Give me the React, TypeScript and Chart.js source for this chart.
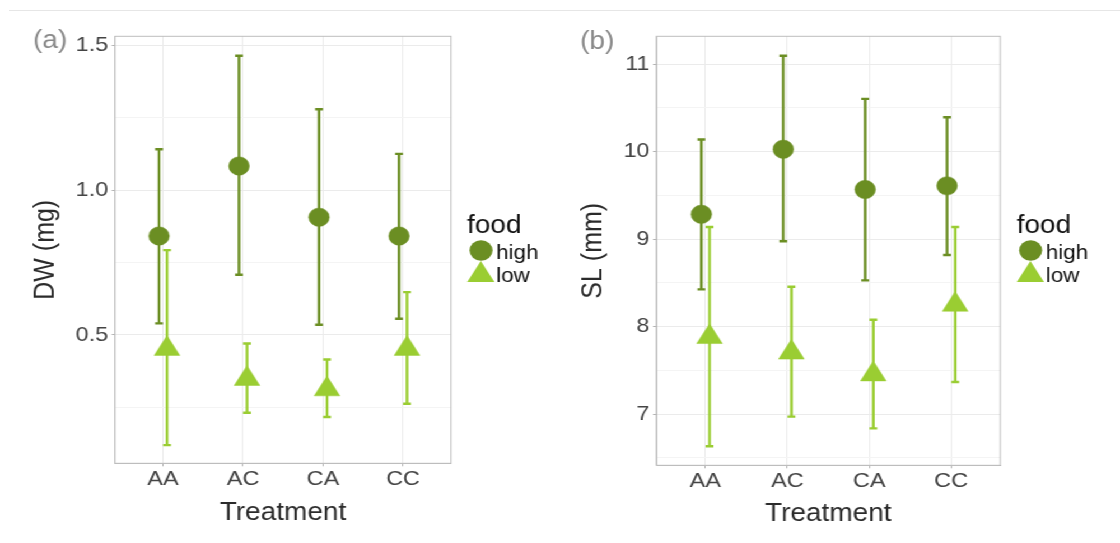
import React, { useEffect, useRef } from 'react';
import { Chart, registerables } from 'chart.js';

Chart.register(...registerables);

// ---------------- data ----------------
const CATEGORIES = ['AA', 'AC', 'CA', 'CC'];
const SERIES_NAMES = ['high', 'low'];

const DW_HIGH_MEAN = [0.842, 1.084, 0.907, 0.842];
const DW_HIGH_UPPER = [1.142, 1.465, 1.28, 1.126];
const DW_HIGH_LOWER = [0.54, 0.708, 0.535, 0.556];
const DW_LOW_MEAN = [0.452, 0.348, 0.312, 0.452];
const DW_LOW_UPPER = [0.793, 0.47, 0.415, 0.648];
const DW_LOW_LOWER = [0.119, 0.231, 0.216, 0.262];

const SL_HIGH_MEAN = [9.283, 10.026, 9.566, 9.608];
const SL_HIGH_UPPER = [10.137, 11.095, 10.602, 10.392];
const SL_HIGH_LOWER = [8.425, 8.974, 8.528, 8.817];
const SL_LOW_MEAN = [7.881, 7.703, 7.454, 8.25];
const SL_LOW_UPPER = [9.137, 8.454, 8.077, 9.137];
const SL_LOW_LOWER = [6.631, 6.97, 6.836, 7.366];

const DW_MAJOR_TICKS = [0.5, 1.0, 1.5];
const DW_TICK_LABELS = ['0.5', '1.0', '1.5'];
const DW_MINOR_TICKS = [0.25, 0.75, 1.25];
const SL_MAJOR_TICKS = [7, 8, 9, 10, 11];
const SL_TICK_LABELS = ['7', '8', '9', '10', '11'];
const SL_MINOR_TICKS = [6.5, 7.5, 8.5, 9.5, 10.5];

// ---------------- styles ----------------
const SX = 1.12; // horizontal stretch of the whole figure
const FONT = "'Liberation Sans', Arial, Helvetica, sans-serif";
const HIGH_COLOR = '#6b8e23';
const LOW_COLOR = '#9acd32';
const DODGE = 0.05;
const CAP = 3.5;

const PANELS = [
  {
    left: 0,
    tag: '(a)', tagX: 29.5, tagY: 48,
    yTitle: 'DW (mg)',
    yMin: 0.056, yMax: 1.5325,
    major: DW_MAJOR_TICKS, labels: DW_TICK_LABELS, minor: DW_MINOR_TICKS,
    high: { mean: DW_HIGH_MEAN, up: DW_HIGH_UPPER, lo: DW_HIGH_LOWER },
    low: { mean: DW_LOW_MEAN, up: DW_LOW_UPPER, lo: DW_LOW_LOWER },
    padLeft: 26, yWidth: 76.7, padRight: 97.3, padTop: 36.3, padBottom: 15, xHeight: 64.7,
    legendX: 417,
  },
  {
    left: 500,
    tag: '(b)', tagX: 17.9, tagY: 49,
    yTitle: 'SL (mm)',
    yMin: 6.414, yMax: 11.317,
    major: SL_MAJOR_TICKS, labels: SL_TICK_LABELS, minor: SL_MINOR_TICKS,
    high: { mean: SL_HIGH_MEAN, up: SL_HIGH_UPPER, lo: SL_HIGH_LOWER },
    low: { mean: SL_LOW_MEAN, up: SL_LOW_UPPER, lo: SL_LOW_LOWER },
    padLeft: 14.8, yWidth: 71.2, padRight: 106.9, padTop: 36.3, padBottom: 14, xHeight: 63.7,
    legendX: 407.7,
  },
];

const errorBarPlugin = {
  id: 'errorBarsAndFrame',
  beforeDatasetsDraw(chart: any) {
    const { ctx, chartArea, scales } = chart;
    const x = scales.x;
    const y = scales.y;
    ctx.save();
    ctx.strokeStyle = '#bdbdbd';
    ctx.lineWidth = 1;
    ctx.strokeRect(chartArea.left, chartArea.top, chartArea.right - chartArea.left, chartArea.bottom - chartArea.top);
    chart.data.datasets.forEach((ds: any) => {
      ctx.strokeStyle = ds.errColor;
      ctx.lineWidth = 2.4;
      ctx.lineCap = 'butt';
      ds.data.forEach((p: any, i: number) => {
        const px = x.getPixelForValue(p.x);
        const yU = y.getPixelForValue(ds.errUpper[i]);
        const yL = y.getPixelForValue(ds.errLower[i]);
        ctx.beginPath();
        ctx.moveTo(px, yU);
        ctx.lineTo(px, yL);
        ctx.moveTo(px - CAP, yU);
        ctx.lineTo(px + CAP, yU);
        ctx.moveTo(px - CAP, yL);
        ctx.lineTo(px + CAP, yL);
        ctx.stroke();
      });
    });
    ctx.restore();
  },
  afterDraw(chart: any) {
    const { ctx } = chart;
    const cfg = chart.options.plugins.errorBarsAndFrame;
    ctx.save();
    // panel tag
    ctx.fillStyle = '#8a8a8a';
    ctx.font = `25px ${FONT}`;
    ctx.textAlign = 'left';
    ctx.textBaseline = 'alphabetic';
    ctx.fillText(cfg.tag, cfg.tagX, cfg.tagY);
    // legend
    const lx = cfg.legendX;
    ctx.fillStyle = '#111';
    ctx.font = `25px ${FONT}`;
    ctx.fillText('food', lx, 233);
    ctx.fillStyle = HIGH_COLOR;
    ctx.beginPath();
    ctx.arc(lx + 12.5, 250.5, 10.3, 0, Math.PI * 2);
    ctx.fill();
    const tx = lx + 12.3;
    const ty = 275;
    const r = 14;
    ctx.fillStyle = LOW_COLOR;
    ctx.beginPath();
    for (let k = 0; k < 3; k++) {
      const a = (k * 2 * Math.PI) / 3;
      const vx = tx + Math.sin(a) * r;
      const vy = ty - Math.cos(a) * r;
      if (k === 0) ctx.moveTo(vx, vy);
      else ctx.lineTo(vx, vy);
    }
    ctx.closePath();
    ctx.fill();
    ctx.fillStyle = '#111';
    ctx.font = `20px ${FONT}`;
    ctx.fillText(SERIES_NAMES[0], lx + 26, 258.5);
    ctx.fillText(SERIES_NAMES[1], lx + 26, 281.5);
    ctx.restore();
  },
};

function buildConfig(p: any) {
  const allY = [...p.minor, ...p.major].sort((a: number, b: number) => a - b);
  const isMajor = (v: number) => p.major.some((m: number) => Math.abs(m - v) < 1e-9);
  return {
    type: 'scatter',
    data: {
      datasets: [
        {
          label: SERIES_NAMES[0],
          data: p.high.mean.map((v: number, i: number) => ({ x: i - DODGE, y: v })),
          errUpper: p.high.up,
          errLower: p.high.lo,
          errColor: HIGH_COLOR,
          pointStyle: 'circle',
          pointRadius: 9.2,
          pointBackgroundColor: HIGH_COLOR,
          pointBorderColor: HIGH_COLOR,
          pointBorderWidth: 0.5,
          showLine: false,
        },
        {
          label: SERIES_NAMES[1],
          data: p.low.mean.map((v: number, i: number) => ({ x: i + DODGE, y: v })),
          errUpper: p.low.up,
          errLower: p.low.lo,
          errColor: LOW_COLOR,
          pointStyle: 'triangle',
          pointRadius: 13.2,
          pointBackgroundColor: LOW_COLOR,
          pointBorderColor: LOW_COLOR,
          pointBorderWidth: 0.5,
          showLine: false,
        },
      ],
    },
    options: {
      responsive: false,
      maintainAspectRatio: false,
      animation: false,
      events: [],
      layout: {
        padding: { left: p.padLeft, right: p.padRight, top: p.padTop, bottom: p.padBottom },
      },
      plugins: {
        legend: { display: false },
        tooltip: { enabled: false },
        errorBarsAndFrame: p,
      },
      scales: {
        x: {
          type: 'linear',
          min: -0.6,
          max: 3.6,
          afterBuildTicks: (scale: any) => {
            scale.ticks = CATEGORIES.map((_, i) => ({ value: i }));
          },
          afterFit: (scale: any) => {
            scale.height = p.xHeight;
          },
          ticks: {
            callback: (v: number) => CATEGORIES[Math.round(v)],
            color: '#444',
            font: { family: FONT, size: 21, lineHeight: 1.2 },
            padding: 0,
            maxRotation: 0,
            autoSkip: false,
          },
          grid: {
            color: '#ebebeb',
            lineWidth: 1,
            tickLength: 3,
            tickColor: '#b3b3b3',
          },
          border: { display: true, color: '#bdbdbd', width: 1 },
          title: {
            display: true,
            text: 'Treatment',
            color: '#2b2b2b',
            font: { family: FONT, size: 25, lineHeight: 1.2 },
            padding: 0,
          },
        },
        y: {
          type: 'linear',
          min: p.yMin,
          max: p.yMax,
          afterBuildTicks: (scale: any) => {
            scale.ticks = allY.map((v: number) => ({ value: v }));
          },
          afterFit: (scale: any) => {
            scale.width = p.yWidth;
          },
          ticks: {
            callback: (v: number) => {
              const idx = p.major.findIndex((m: number) => Math.abs(m - v) < 1e-9);
              return idx >= 0 ? p.labels[idx] : '';
            },
            color: '#444',
            font: { family: FONT, size: 21, lineHeight: 1.2 },
            padding: 3,
            autoSkip: false,
          },
          grid: {
            color: (c: any) => (c.tick && isMajor(c.tick.value) ? '#ebebeb' : '#f4f4f4'),
            lineWidth: 1,
            tickLength: 3,
            tickColor: (c: any) => (c.tick && isMajor(c.tick.value) ? '#b3b3b3' : 'rgba(0,0,0,0)'),
          },
          border: { display: true, color: '#bdbdbd', width: 1 },
          title: {
            display: true,
            text: p.yTitle,
            color: '#2b2b2b',
            font: { family: FONT, size: 25, lineHeight: 1.2 },
            padding: 0,
          },
        },
      },
    },
    plugins: [errorBarPlugin],
  };
}

function Panel({ p }: { p: any }) {
  const ref = useRef<HTMLCanvasElement | null>(null);
  useEffect(() => {
    if (!ref.current) return;
    const chart = new Chart(ref.current, buildConfig(p) as any);
    return () => chart.destroy();
  }, [p]);
  return (
    <canvas
      ref={ref}
      width={500}
      height={543}
      style={{ position: 'absolute', left: p.left, top: 0, width: 500, height: 543 }}
    />
  );
}

export default function App() {
  return (
    <div style={{ position: 'fixed', left: 0, top: 0, width: 1120, height: 543, background: '#fff', overflow: 'hidden' }}>
      <div style={{ position: 'absolute', left: 9, top: 10, width: 1111, height: 1, background: '#e6e6e6' }} />
      <div
        style={{
          position: 'absolute',
          left: 0,
          top: 0,
          width: 1000,
          height: 543,
          transform: `scaleX(${SX})`,
          transformOrigin: '0 0',
        }}
      >
        {PANELS.map((p) => (
          <Panel key={p.tag} p={p} />
        ))}
      </div>
    </div>
  );
}
